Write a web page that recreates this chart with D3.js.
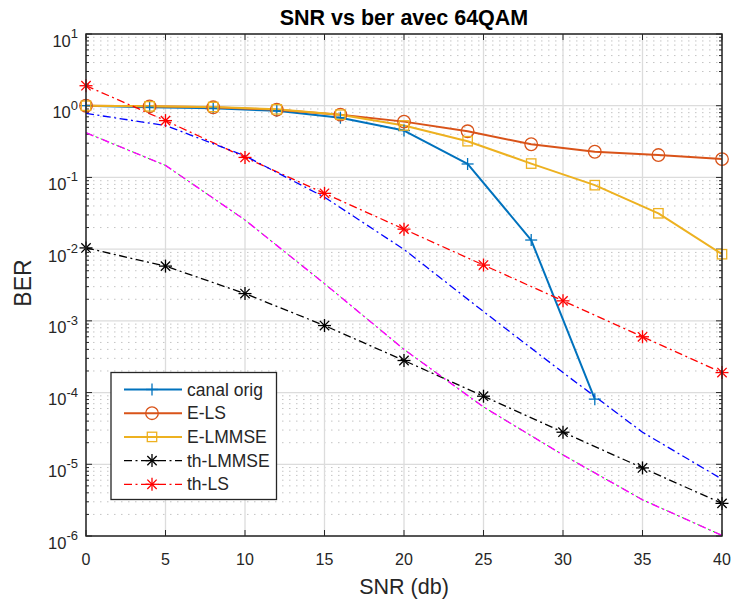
<!DOCTYPE html>
<html><head><meta charset="utf-8">
<script src="https://cdn.jsdelivr.net/npm/d3@7/dist/d3.min.js"></script>
<style>
html,body{margin:0;padding:0;background:#fff;}
svg text{font-family:"Liberation Sans",Arial,Helvetica,sans-serif;}
</style></head>
<body>
<svg id="chart" width="734" height="605"></svg>
<script>
// ---- data ----
const snrExp = [0,4,8,12,16,20,24,28,32,36,40];
const snrCanal = [0,4,8,12,16,20,24,28,32];
const canalOrig = [1.0,0.95,0.92,0.85,0.68,0.45,0.154,0.0134,8.1e-5];
const eLS = [1.0,0.98,0.95,0.88,0.75,0.60,0.44,0.29,0.228,0.205,0.18];
const eLMMSE = [1.0,0.98,0.96,0.89,0.75,0.53,0.32,0.156,0.078,0.0316,0.0085];
const snrTh = [0,5,10,15,20,25,30,35,40];
const thLMMSE = [0.0104,0.0058,0.0024,8.6e-4,2.8e-4,8.9e-5,2.8e-5,8.9e-6,2.85e-6];
const thLS = [1.9,0.62,0.19,0.06,0.019,0.006,0.0019,6.0e-4,1.9e-4];
const thCanal = [0.78,0.53,0.2,0.053,0.0099,0.00135,1.9e-4,2.8e-5,6.2e-6];
const thOther = [0.42,0.147,0.0255,0.0033,4.0e-4,6.3e-5,1.35e-5,3.2e-6,1.02e-6];
const xTicks = [0,5,10,15,20,25,30,35,40];
const yExps = [-6,-5,-4,-3,-2,-1,0,1];
const legendNames = ["canal orig","E-LS","E-LMMSE","th-LMMSE","th-LS"];

// ---- layout ----
const svg = d3.select("#chart");
const L=86, R=722, T=34, B=536;
const x = d3.scaleLinear().domain([0,40]).range([L,R]);
const y = d3.scaleLog().domain([1e-6,10]).range([B,T]);
const axisCol = "#262626";

// grids
const g = svg.append("g");
const minorVals = [];
for (let e=-6;e<1;e++) for (let k=2;k<=9;k++) minorVals.push(k*Math.pow(10,e));
g.selectAll(".minor").data(minorVals).enter().append("line")
  .attr("x1",L).attr("x2",R).attr("y1",d=>y(d)).attr("y2",d=>y(d))
  .attr("stroke","#c4c4c4").attr("stroke-width",1).attr("stroke-dasharray","1.5,5.5");
g.selectAll(".majy").data(yExps).enter().append("line")
  .attr("x1",L).attr("x2",R).attr("y1",d=>y(Math.pow(10,d))).attr("y2",d=>y(Math.pow(10,d)))
  .attr("stroke","#dcdcdc").attr("stroke-width",1.3);
g.selectAll(".majx").data(xTicks).enter().append("line")
  .attr("y1",T).attr("y2",B).attr("x1",d=>x(d)).attr("x2",d=>x(d))
  .attr("stroke","#dcdcdc").attr("stroke-width",1.3);

// ticks
const tk = svg.append("g").attr("stroke",axisCol).attr("stroke-width",1);
xTicks.forEach(v=>{
  tk.append("line").attr("x1",x(v)).attr("x2",x(v)).attr("y1",B).attr("y2",B-6);
  tk.append("line").attr("x1",x(v)).attr("x2",x(v)).attr("y1",T).attr("y2",T+6);
});
yExps.forEach(e=>{
  const yy=y(Math.pow(10,e));
  tk.append("line").attr("x1",L).attr("x2",L+6).attr("y1",yy).attr("y2",yy);
  tk.append("line").attr("x1",R).attr("x2",R-6).attr("y1",yy).attr("y2",yy);
});
minorVals.forEach(v=>{
  const yy=y(v);
  tk.append("line").attr("x1",L).attr("x2",L+3).attr("y1",yy).attr("y2",yy);
  tk.append("line").attr("x1",R).attr("x2",R-3).attr("y1",yy).attr("y2",yy);
});

// tick labels
svg.selectAll(".xl").data(xTicks).enter().append("text")
  .attr("x",d=>x(d)).attr("y",565).attr("text-anchor","middle")
  .attr("font-size",16).attr("fill",axisCol).text(d=>d);
yExps.forEach(e=>{
  const yy=y(Math.pow(10,e));
  const t=svg.append("text").attr("x",78).attr("y",yy+12.5).attr("text-anchor","end")
    .attr("font-size",16.5).attr("fill",axisCol);
  t.append("tspan").text("10");
  t.append("tspan").attr("dy",-8.5).attr("font-size",13).text(e<0?"-"+(-e):String(e));
});

// labels
svg.append("text").attr("x",404).attr("y",25).attr("text-anchor","middle")
  .attr("font-size",21.5).attr("font-weight","bold").attr("fill","#000").text("SNR vs ber avec 64QAM");
svg.append("text").attr("x",404).attr("y",594).attr("text-anchor","middle")
  .attr("font-size",21.5).attr("fill",axisCol).text("SNR (db)");
svg.append("text").attr("transform","translate(31,283) rotate(-90)").attr("text-anchor","middle")
  .attr("font-size",23).attr("fill",axisCol).text("BER");

// clip
svg.append("clipPath").attr("id","clip").append("rect").attr("x",L).attr("y",T).attr("width",R-L).attr("height",B-T);
const plot = svg.append("g").attr("clip-path","url(#clip)");
const mk = svg.append("g");

const dashDot = "8,3.5,2,3.5";
function drawLine(xs, ys, color, width, dash, offset){
  const pts = xs.map((v,i)=>[v,ys[i]]);
  plot.append("path").datum(pts)
    .attr("d",d3.line().x(d=>x(d[0])).y(d=>y(d[1])))
    .attr("fill","none").attr("stroke",color).attr("stroke-width",width)
    .attr("stroke-dasharray",dash||null).attr("stroke-dashoffset",offset||0)
    .attr("stroke-linejoin","round");
}
function marker(parent, type, cx, cy, color){
  const s = parent.append("g").attr("transform",`translate(${cx},${cy})`)
    .attr("stroke",color).attr("fill","none").attr("stroke-width",1.3);
  if(type==="plus"){
    s.append("line").attr("x1",-6).attr("x2",6);
    s.append("line").attr("y1",-6).attr("y2",6);
  } else if(type==="circle"){
    s.append("circle").attr("r",6.3);
  } else if(type==="square"){
    s.append("rect").attr("x",-4.7).attr("y",-4.7).attr("width",9.4).attr("height",9.4);
  } else if(type==="star"){
    const r=6.5, q=r*0.72;
    s.append("line").attr("x1",-r).attr("x2",r);
    s.append("line").attr("y1",-r).attr("y2",r);
    s.append("line").attr("x1",-q).attr("y1",-q).attr("x2",q).attr("y2",q);
    s.append("line").attr("x1",-q).attr("y1",q).attr("x2",q).attr("y2",-q);
  }
}
function drawMarkers(xs, ys, type, color){
  xs.forEach((v,i)=>marker(mk,type,x(v),y(ys[i]),color));
}

// series
const cBlue="#0072BD", cOrange="#D95319", cYellow="#EDB120";
drawLine(snrCanal, canalOrig, cBlue, 2);
drawLine(snrExp, eLS, cOrange, 2);
drawLine(snrExp, eLMMSE, cYellow, 2);
drawLine(snrTh, thLMMSE, "#000", 1.3, dashDot);
drawLine(snrTh, thLS, "#FF0000", 1.3, dashDot);
drawLine(snrTh, thCanal, "#0000FF", 1.3, dashDot);
drawLine(snrTh, thOther, "#00FF00", 1.0, dashDot, 1.2);
drawLine(snrTh, thOther, "#FF00FF", 1.4, dashDot);

drawMarkers(snrCanal, canalOrig, "plus", cBlue);
drawMarkers(snrExp, eLS, "circle", cOrange);
drawMarkers(snrExp, eLMMSE, "square", cYellow);
drawMarkers(snrTh, thLMMSE, "star", "#000");
drawMarkers(snrTh, thLS, "star", "#FF0000");

// axes box
svg.append("rect").attr("x",L).attr("y",T).attr("width",R-L).attr("height",B-T)
  .attr("fill","none").attr("stroke",axisCol).attr("stroke-width",1.5);

// legend
const lg = svg.append("g");
lg.append("rect").attr("x",111).attr("y",372.5).attr("width",165.5).attr("height",127)
  .attr("fill","#fff").attr("stroke",axisCol).attr("stroke-width",1.3);
const legStyles = [
  {c:cBlue,m:"plus",w:2,d:null},
  {c:cOrange,m:"circle",w:2,d:null},
  {c:cYellow,m:"square",w:2,d:null},
  {c:"#000",m:"star",w:1.3,d:dashDot},
  {c:"#FF0000",m:"star",w:1.3,d:dashDot}
];
legendNames.forEach((name,i)=>{
  const yy = 389.5 + i*23.7;
  const st = legStyles[i];
  lg.append("line").attr("x1",124).attr("x2",182).attr("y1",yy).attr("y2",yy)
    .attr("stroke",st.c).attr("stroke-width",st.w).attr("stroke-dasharray",st.d);
  marker(lg, st.m, 152, yy, st.c);
  lg.append("text").attr("x",187).attr("y",yy+6).attr("font-size",17.5).attr("fill",axisCol).text(name);
});
</script>
</body></html>
